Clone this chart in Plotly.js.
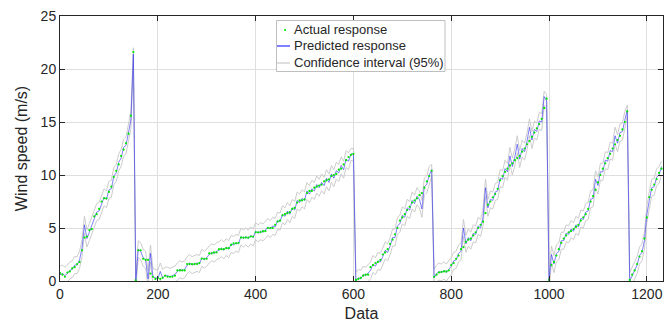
<!DOCTYPE html>
<html><head><meta charset="utf-8">
<script src="https://cdn.plot.ly/plotly-3.0.1.min.js"></script>
<style>html,body{margin:0;padding:0;background:#fff}#chart{width:664px;height:324px}</style>
</head><body><div id="chart"></div>
<script>
// Samples are taken every 5 data indices starting at 0 (x0 = 0, dx = 5 in Plotly)
const sampleStart = 0;
const sampleStep = 5;

const actualResponse = [
0.75,0.6,0.4,0.8,0.9,1.2,1.3,1.6,1.8,2.9,
4.1,4.2,4.8,4.9,6.1,6.3,6.8,7.5,7.8,7.8,
8.4,8.9,9.8,10.4,11.0,11.8,12.4,13.0,13.9,15.6,
21.6,0.05,2.9,2.9,2.1,2.0,2.0,0.7,0.4,0.2,
0.3,0.2,0.3,0.5,0.4,0.4,0.4,0.5,1.0,1.0,
1.0,1.0,1.6,1.6,1.6,1.6,1.6,1.7,2.1,2.1,
2.1,2.6,2.6,2.7,2.7,3.0,3.0,3.0,3.1,3.1,
3.4,3.55,3.55,3.6,4.1,4.1,4.1,4.1,4.2,4.2,
4.6,4.6,4.6,4.7,4.7,5.0,5.0,5.0,5.3,5.6,
5.7,6.2,6.3,6.4,6.5,6.8,6.9,7.4,7.6,7.6,
7.7,8.3,8.5,8.5,8.8,8.9,9.0,9.1,9.4,9.5,
9.6,9.9,10.0,10.1,10.5,10.6,11.0,11.4,11.7,11.9,
12.0,0.1,0.2,0.3,0.5,0.6,0.6,1.3,1.5,1.7,
1.8,2.0,2.5,2.7,3.0,3.5,3.9,4.4,5.0,5.7,
6.0,6.3,6.7,7.0,7.4,7.6,7.8,8.1,8.3,8.8,
9.4,9.9,10.4,0.4,0.6,0.8,0.85,0.9,0.9,1.0,
1.5,1.7,2.1,2.4,3.0,3.2,3.7,3.9,4.0,4.3,
4.6,5.0,5.3,5.6,6.4,7.2,7.5,7.9,8.2,8.7,
9.5,9.9,10.3,10.6,10.9,11.1,11.4,11.6,11.8,12.2,
12.5,12.9,13.2,13.6,14.0,14.4,14.8,15.3,16.3,17.2,
0.1,1.5,1.8,2.4,3.0,3.6,4.0,4.3,4.6,4.7,
4.9,5.1,5.3,5.7,6.0,6.3,6.8,7.5,8.0,8.6,
9.3,10.0,10.6,11.1,11.6,12.0,12.5,12.9,13.3,13.7,
14.3,15.0,16.0,0.1,0.6,1.0,1.6,2.3,2.8,4.0,
6.0,7.9,8.6,9.1,9.6,10.2,10.6
];

const predictedResponse = [
0.6,0.7,0.5,0.7,1.0,1.1,1.5,1.5,2.0,3.1,
5.3,4.0,4.6,5.3,5.9,6.5,6.6,7.3,7.9,7.7,
8.6,8.7,9.9,10.2,11.2,11.6,12.6,12.8,14.1,15.2,
21.4,0.0,3.0,2.8,2.2,2.0,0.2,2.6,0.4,0.3,
0.2,0.9,0.3,0.5,0.5,0.4,0.5,0.6,0.9,1.1,
1.0,1.1,1.5,1.7,1.5,1.6,1.7,1.6,2.2,2.0,
2.2,2.5,2.7,2.6,2.8,2.9,3.1,2.9,3.2,3.0,
3.5,3.4,3.6,3.5,4.2,4.0,4.2,4.0,4.3,4.1,
4.7,4.5,4.7,4.6,4.8,5.1,4.9,5.2,5.1,5.7,
5.6,6.3,6.1,6.6,6.3,6.9,6.7,7.6,7.4,7.8,
7.6,8.5,8.2,8.7,8.5,9.1,8.8,9.3,9.0,9.7,
9.3,10.1,9.7,10.4,10.2,10.9,10.5,11.5,11.3,12.0,
11.9,0.0,0.3,0.2,0.6,0.5,0.8,1.0,1.6,1.4,
1.9,1.8,2.3,2.9,2.7,3.3,4.1,4.1,5.2,5.4,
6.2,6.0,6.9,6.7,7.6,7.3,8.0,7.7,6.8,8.9,
9.1,10.0,10.5,0.3,0.7,0.9,0.8,1.0,0.8,1.1,
1.4,1.9,2.0,2.6,2.8,5.0,3.5,4.1,3.8,4.5,
4.4,5.2,5.0,6.0,8.8,6.9,7.7,7.6,8.4,8.5,
9.7,9.6,10.6,10.3,11.8,10.8,11.7,12.9,11.5,12.5,
12.2,13.2,14.5,13.3,14.3,14.1,15.1,15.0,17.4,17.0,
0.0,2.5,1.6,2.6,2.8,3.8,3.8,4.5,4.4,4.9,
4.7,5.3,5.1,5.9,5.8,6.5,6.6,7.7,7.8,9.6,
9.0,10.3,10.3,11.4,11.3,12.3,12.2,13.7,13.0,14.0,
14.1,15.2,16.1,0.0,0.5,1.1,1.5,2.4,2.7,3.8,
6.3,7.6,8.8,8.9,9.8,10.0,10.8
];

const upperBound = [
1.4,1.5,1.3,1.5,1.8,1.9,2.3,2.3,2.8,3.9,
6.1,4.8,5.4,6.1,6.7,7.3,7.4,8.1,8.7,8.5,
9.4,9.5,10.7,11.0,12.0,12.4,13.4,13.6,14.9,16.0,
22.0,0.6,3.8,3.6,3.0,2.8,1.0,3.4,1.2,1.1,
1.0,1.7,1.1,1.3,1.3,1.2,1.3,1.4,1.7,1.9,
1.8,1.9,2.3,2.5,2.3,2.4,2.5,2.4,3.0,2.8,
3.0,3.3,3.5,3.4,3.6,3.7,3.9,3.7,4.0,3.8,
4.3,4.2,4.4,4.3,5.0,4.8,5.0,4.8,5.1,4.9,
5.5,5.3,5.5,5.4,5.6,5.9,5.7,6.0,5.9,6.5,
6.4,7.1,6.9,7.4,7.1,7.7,7.5,8.4,8.2,8.6,
8.4,9.3,9.0,9.5,9.3,9.9,9.6,10.1,9.8,10.5,
10.1,10.9,10.5,11.2,11.0,11.7,11.3,12.3,12.1,12.5,
12.5,0.8,1.1,1.0,1.4,1.3,1.6,1.8,2.4,2.2,
2.7,2.6,3.1,3.7,3.5,4.1,4.9,4.9,6.0,6.2,
7.0,6.8,7.7,7.5,8.4,8.1,8.8,8.5,7.6,9.7,
9.9,10.8,11.0,1.1,1.5,1.7,1.6,1.8,1.6,1.9,
2.2,2.7,2.8,3.4,3.6,5.8,4.3,4.9,4.6,5.3,
5.2,6.0,5.8,6.8,9.6,7.7,8.5,8.4,9.2,9.3,
10.5,10.4,11.4,11.1,12.6,11.6,12.5,13.7,12.3,13.3,
13.0,14.0,15.3,14.1,15.1,14.9,15.9,15.8,17.9,17.6,
0.6,3.3,2.4,3.4,3.6,4.6,4.6,5.3,5.2,5.7,
5.5,6.1,5.9,6.7,6.6,7.3,7.4,8.5,8.6,10.4,
9.8,11.1,11.1,12.2,12.1,13.1,13.0,14.5,13.8,14.8,
14.9,16.0,16.6,0.8,1.3,1.9,2.3,3.2,3.5,4.6,
7.1,8.4,9.6,9.7,10.6,10.8,11.3
];

const lowerBound = [
-0.2,-0.1,-0.3,-0.1,0.2,0.3,0.7,0.7,1.2,2.3,
4.5,3.2,3.8,4.5,5.1,5.7,5.8,6.5,7.1,6.9,
7.8,7.9,9.1,9.4,10.4,10.8,11.8,12.0,13.3,14.4,
20.6,-0.8,2.2,2.0,1.4,1.2,-0.6,1.8,-0.4,-0.5,
-0.6,0.1,-0.5,-0.3,-0.3,-0.4,-0.3,-0.2,0.1,0.3,
0.2,0.3,0.7,0.9,0.7,0.8,0.9,0.8,1.4,1.2,
1.4,1.7,1.9,1.8,2.0,2.1,2.3,2.1,2.4,2.2,
2.7,2.6,2.8,2.7,3.4,3.2,3.4,3.2,3.5,3.3,
3.9,3.7,3.9,3.8,4.0,4.3,4.1,4.4,4.3,4.9,
4.8,5.5,5.3,5.8,5.5,6.1,5.9,6.8,6.6,7.0,
6.8,7.7,7.4,7.9,7.7,8.3,8.0,8.5,8.2,8.9,
8.5,9.3,8.9,9.6,9.4,10.1,9.7,10.7,10.5,11.4,
11.3,-0.8,-0.5,-0.6,-0.2,-0.3,0.0,0.2,0.8,0.6,
1.1,1.0,1.5,2.1,1.9,2.5,3.3,3.3,4.4,4.6,
5.4,5.2,6.1,5.9,6.8,6.5,7.2,6.9,6.0,8.1,
8.3,9.2,9.9,-0.5,-0.1,0.1,0.0,0.2,0.0,0.3,
0.6,1.1,1.2,1.8,2.0,4.2,2.7,3.3,3.0,3.7,
3.6,4.4,4.2,5.2,8.0,6.1,6.9,6.8,7.6,7.7,
8.9,8.8,9.8,9.5,11.0,10.0,10.9,12.1,10.7,11.7,
11.4,12.4,13.7,12.5,13.5,13.3,14.3,14.2,16.6,16.2,
-0.8,1.7,0.8,1.8,2.0,3.0,3.0,3.7,3.6,4.1,
3.9,4.5,4.3,5.1,5.0,5.7,5.8,6.9,7.0,8.8,
8.2,9.5,9.5,10.6,10.5,11.5,11.4,12.9,12.2,13.2,
13.3,14.4,15.6,-0.8,-0.3,0.3,0.7,1.6,1.9,3.0,
5.5,6.8,8.0,8.1,9.0,9.2,10.0
];

const xTickValues = [0,200,400,600,800,1000,1200];
const yTickValues = [0,5,10,15,20,25];
const legendLabels = ['Actual response','Predicted response','Confidence interval (95%)'];

const colActual = 'rgb(0,230,0)';
const colPred = 'rgba(40,40,245,0.65)';
const colCI = '#c6c6c6';

const traces = [
  {type:'scatter', mode:'lines', x0:sampleStart, dx:sampleStep, y:upperBound,
   line:{color:colCI, width:0.9}, hoverinfo:'skip'},
  {type:'scatter', mode:'lines', x0:sampleStart, dx:sampleStep, y:lowerBound,
   line:{color:colCI, width:0.9}, hoverinfo:'skip'},
  {type:'scatter', mode:'lines', x0:sampleStart, dx:sampleStep, y:predictedResponse,
   line:{color:colPred, width:0.9}},
  {type:'scatter', mode:'markers', x0:sampleStart, dx:sampleStep, y:actualResponse,
   marker:{color:colActual, size:2.2}, cliponaxis:false}
];

// plot-area pixel geometry for the hand-built legend
const L = 60, R = 1, T = 16, B = 43, W = 664, H = 324;
const pw = W - L - R, ph = H - T - B;
const px = v => (v - L) / pw;
const py = v => (H - B - v) / ph;

const shapes = [
  {type:'rect', xref:'paper', yref:'paper', x0:px(276.5), x1:px(445), y0:py(71.5), y1:py(20.5),
   fillcolor:'#ffffff', line:{color:'#bfbfbf', width:1}, layer:'above'},
  {type:'circle', xref:'paper', yref:'paper', x0:px(284), x1:px(286.2), y0:py(31.1), y1:py(28.9),
   fillcolor:colActual, line:{width:0}, layer:'above'},
  {type:'line', xref:'paper', yref:'paper', x0:px(277), x1:px(290), y0:py(46), y1:py(46),
   line:{color:'#0000ff', width:1}, layer:'above'},
  {type:'line', xref:'paper', yref:'paper', x0:px(277), x1:px(290), y0:py(63), y1:py(63),
   line:{color:'#bdbdbd', width:1}, layer:'above'}
];
const legendY = [30, 46, 63];
const annotations = legendLabels.map((t,i) => ({
  text:t, xref:'paper', yref:'paper', x:px(292), y:py(legendY[i]), xanchor:'left', yanchor:'middle',
  showarrow:false, font:{size:13, color:'#262626'}
}));

const axisCommon = {
  ticks:'inside', ticklen:5, tickwidth:1, tickcolor:'#262626',
  showline:true, linecolor:'#262626', linewidth:1, mirror:'ticks',
  showgrid:true, gridcolor:'#dfdfdf', gridwidth:1, zeroline:false,
  tickfont:{size:14, color:'#262626'}
};

const layout = {
  width:W, height:H,
  margin:{l:L, r:R, t:T, b:B, pad:0},
  paper_bgcolor:'#ffffff', plot_bgcolor:'#ffffff',
  font:{family:'"Liberation Sans", Arial, Helvetica, sans-serif', size:14, color:'#262626'},
  showlegend:false,
  xaxis:Object.assign({}, axisCommon, {range:[0,1233], tickmode:'array', tickvals:xTickValues,
    title:{text:'Data', font:{size:16, color:'#262626'}, standoff:7}}),
  yaxis:Object.assign({}, axisCommon, {range:[0,25], tickmode:'array', tickvals:yTickValues,
    title:{text:'Wind speed (m/s)', font:{size:16, color:'#262626'}, standoff:9}}),
  shapes:shapes,
  annotations:annotations
};

Plotly.newPlot('chart', traces, layout, {displayModeBar:false, staticPlot:true});
</script>
</body></html>
